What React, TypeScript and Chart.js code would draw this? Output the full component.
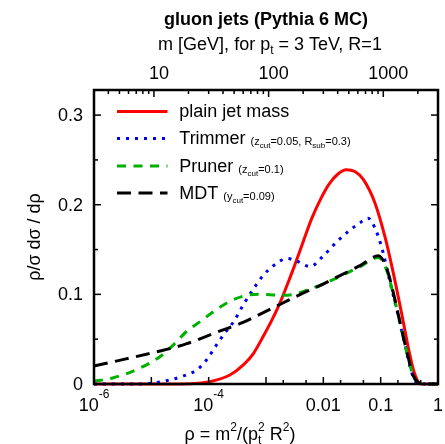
import React, { useEffect, useRef } from "react";
import { Chart, registerables } from "chart.js";

Chart.register(...registerables);

const FONT = '"Liberation Sans", Arial, Helvetica, sans-serif';

// ---- data (x given as log10(rho), y = rho/sigma dsigma/drho) ----
const plainLogRho = [-6, -4.6, -4.25, -3.98, -3.63, -3.4, -3.22, -3.05, -2.9, -2.76, -2.64, -2.52, -2.35, -2.2, -2.05, -1.9, -1.75, -1.6, -1.45, -1.3, -1.1, -0.92, -0.78, -0.62, -0.5, -0.43, -0.36, -0.3, 0];
const plainValues = [0, 0, 0.0005, 0.0026, 0.01, 0.021, 0.034, 0.053, 0.071, 0.09, 0.109, 0.129, 0.159, 0.185, 0.206, 0.223, 0.234, 0.239, 0.237, 0.228, 0.202, 0.163, 0.124, 0.074, 0.035, 0.016, 0.004, 0, 0];

const trimLogRho = [-6, -5.2, -4.72, -4.44, -4.2, -4.03, -3.88, -3.74, -3.56, -3.39, -3.22, -3.05, -2.87, -2.63, -2.46, -2.23, -2.0, -1.76, -1.53, -1.36, -1.22, -1.1, -0.98, -0.86, -0.72, -0.57, -0.46, -0.37, -0.3, 0];
const trimValues = [0, 0, 0.004, 0.009, 0.016, 0.0275, 0.042, 0.055, 0.07, 0.089, 0.106, 0.121, 0.132, 0.14, 0.137, 0.131, 0.143, 0.159, 0.172, 0.18, 0.185, 0.174, 0.152, 0.12, 0.083, 0.042, 0.013, 0.001, 0, 0];

const prunLogRho = [-6, -5.66, -5.19, -4.84, -4.61, -4.38, -4.14, -3.91, -3.62, -3.33, -3.1, -2.75, -2.52, -2.23, -1.95, -1.71, -1.36, -1.04, -0.89, -0.78, -0.66, -0.54, -0.43, -0.33, -0.25, 0];
const prunValues = [0.003, 0.007, 0.018, 0.031, 0.044, 0.059, 0.07, 0.081, 0.0925, 0.099, 0.1, 0.099, 0.1, 0.106, 0.113, 0.12, 0.131, 0.141, 0.126, 0.1, 0.068, 0.034, 0.009, 0.001, 0, 0];

const mdtLogRho = [-6, -5.48, -4.9, -4.38, -3.85, -3.39, -3.1, -2.75, -2.4, -2.05, -1.71, -1.36, -1.04, -0.89, -0.78, -0.66, -0.54, -0.43, -0.33, -0.25, 0];
const mdtValues = [0.02, 0.0275, 0.036, 0.045, 0.058, 0.069, 0.078, 0.089, 0.1, 0.11, 0.121, 0.132, 0.143, 0.128, 0.102, 0.068, 0.035, 0.009, 0.001, 0, 0];

// ---- axes / labels ----
const X_MIN = 1e-6;
const X_MAX = 1;
const Y_MIN = 0;
const Y_MAX = 0.328;
const yTickValues = [0, 0.1, 0.2, 0.3];
const yTickLabels = ["0", "0.1", "0.2", "0.3"];
const xTickValues = [1e-6, 1e-4, 0.01, 0.1, 1];
const xTickBase = ["10", "10", "0.01", "0.1", "1"];
const xTickExp = ["-6", "-4", "", "", ""];
const massTickValues = [10, 100, 1000];
const massTickLabels = ["10", "100", "1000"];
const PT_TIMES_R = 3000; // GeV

const seriesNames = ["plain jet mass", "Trimmer", "Pruner", "MDT"];
const seriesColors = ["#ff0000", "#0000ee", "#00b000", "#000000"];
const seriesDash: number[][] = [[], [3, 6], [9, 7.5], [14, 7.5]];

type Seg = { t?: string; size: number; dy?: number; bold?: boolean; stack?: [string, string]; sdy?: [number, number] };

function fnt(size: number, bold?: boolean) {
  return `${bold ? "bold " : ""}${size}px ${FONT}`;
}
function segW(ctx: CanvasRenderingContext2D, s: Seg) {
  ctx.font = fnt(s.size, s.bold);
  if (s.stack) return Math.max(ctx.measureText(s.stack[0]).width, ctx.measureText(s.stack[1]).width);
  return ctx.measureText(s.t || "").width;
}
function drawRich(ctx: CanvasRenderingContext2D, segs: Seg[], x: number, y: number, align: "left" | "center" | "right") {
  const total = segs.reduce((a, s) => a + segW(ctx, s), 0);
  let cx = align === "center" ? x - total / 2 : align === "right" ? x - total : x;
  ctx.textAlign = "left";
  ctx.textBaseline = "alphabetic";
  for (const s of segs) {
    const w = segW(ctx, s);
    ctx.font = fnt(s.size, s.bold);
    if (s.stack) {
      ctx.fillText(s.stack[0], cx, y + (s.sdy ? s.sdy[0] : 4));
      ctx.fillText(s.stack[1], cx, y + (s.sdy ? s.sdy[1] : -8));
    } else {
      ctx.fillText(s.t || "", cx, y + (s.dy || 0));
    }
    cx += w;
  }
  return total;
}

const decorPlugin = {
  id: "decor",
  afterDraw(chart: any) {
    const ctx: CanvasRenderingContext2D = chart.ctx;
    const { left, right, top, bottom } = chart.chartArea;
    const xs = chart.scales.x;
    const ys = chart.scales.y;
    ctx.save();
    ctx.strokeStyle = "#000";
    ctx.fillStyle = "#000";
    ctx.lineWidth = 1.5;
    ctx.setLineDash([]);
    const seg = (x1: number, y1: number, x2: number, y2: number) => {
      ctx.beginPath();
      ctx.moveTo(x1, y1);
      ctx.lineTo(x2, y2);
      ctx.stroke();
    };
    // bottom ticks: decades, plus 2 and 5 from 1e-3
    for (let e = -6; e <= 0; e++) {
      const x = xs.getPixelForValue(Math.pow(10, e));
      seg(x, bottom, x, bottom - 7);
      if (e >= -3 && e < 0) {
        for (const d of [2, 5]) {
          const xm = xs.getPixelForValue(d * Math.pow(10, e));
          seg(xm, bottom, xm, bottom - 4);
        }
      }
    }
    // top ticks in mass
    for (let p = 0; p <= 3; p++) {
      for (let d = 1; d <= 9; d++) {
        const m = d * Math.pow(10, p);
        const rho = Math.pow(m / PT_TIMES_R, 2);
        if (rho <= X_MIN * 1.0001 || rho >= X_MAX) continue;
        const x = xs.getPixelForValue(rho);
        seg(x, top, x, top + (d === 1 ? 7 : 4));
      }
    }
    // y ticks, left and right
    for (let k = 0; k <= 6; k++) {
      const v = k * 0.05;
      const y = ys.getPixelForValue(v);
      const len = k % 2 === 0 ? 7 : 4;
      seg(left, y, left + len, y);
      seg(right, y, right - len, y);
    }
    // border
    ctx.lineWidth = 2.5;
    ctx.strokeRect(left, top, right - left, bottom - top);

    // y tick labels
    ctx.font = fnt(18);
    ctx.textAlign = "right";
    ctx.textBaseline = "middle";
    yTickValues.forEach((v, i) => {
      ctx.fillText(yTickLabels[i], 83, ys.getPixelForValue(v) + 1);
    });
    // x tick labels
    xTickValues.forEach((v, i) => {
      const x = xs.getPixelForValue(v);
      const segs: Seg[] = [{ t: xTickBase[i], size: 18 }];
      if (xTickExp[i]) segs.push({ t: xTickExp[i], size: 12, dy: -13 });
      drawRich(ctx, segs, x, 411, "center");
    });
    // top mass labels
    massTickValues.forEach((m, i) => {
      const x = xs.getPixelForValue(Math.pow(m / PT_TIMES_R, 2));
      drawRich(ctx, [{ t: massTickLabels[i], size: 18 }], x + 5, 79, "center");
    });
    // titles
    const cxPlot = (left + right) / 2;
    drawRich(ctx, [{ t: "gluon jets (Pythia 6 MC)", size: 18, bold: true }], cxPlot, 25, "center");
    drawRich(
      ctx,
      [
        { t: "m [GeV], for p", size: 18 },
        { t: "t", size: 12, dy: 4 },
        { t: " = 3 TeV, R=1", size: 18 },
      ],
      cxPlot + 4,
      49.5,
      "center"
    );
    drawRich(
      ctx,
      [
        { t: "\u03c1 = m", size: 18 },
        { t: "2", size: 12, dy: -9 },
        { t: "/(p", size: 18 },
        { stack: ["t", "2"], size: 12, sdy: [4, -9] },
        { t: " R", size: 18 },
        { t: "2", size: 12, dy: -9 },
        { t: ")", size: 18 },
      ],
      240,
      440,
      "center"
    );
    // y axis title
    ctx.save();
    ctx.translate(35, (top + bottom) / 2);
    ctx.rotate(-Math.PI / 2);
    ctx.font = fnt(18);
    ctx.textAlign = "center";
    ctx.textBaseline = "middle";
    ctx.fillText("\u03c1/\u03c3 d\u03c3 / d\u03c1", 0, 0);
    ctx.restore();

    // legend
    const baselines = [117, 144, 171.5, 198.5];
    const small: Seg[][] = [
      [],
      [
        { t: "(z", size: 11 },
        { t: "cut", size: 8, dy: 3 },
        { t: "=0.05, R", size: 11 },
        { t: "sub", size: 8, dy: 3 },
        { t: "=0.3)", size: 11 },
      ],
      [
        { t: "(z", size: 11 },
        { t: "cut", size: 8, dy: 3 },
        { t: "=0.1)", size: 11 },
      ],
      [
        { t: "(y", size: 11 },
        { t: "cut", size: 8, dy: 3 },
        { t: "=0.09)", size: 11 },
      ],
    ];
    seriesNames.forEach((name, i) => {
      const by = baselines[i];
      const ly = by - 5.5;
      ctx.save();
      ctx.strokeStyle = seriesColors[i];
      ctx.lineWidth = 3;
      ctx.setLineDash(seriesDash[i]);
      ctx.beginPath();
      ctx.moveTo(117, ly);
      ctx.lineTo(167.5, ly);
      ctx.stroke();
      ctx.restore();
      ctx.fillStyle = "#000";
      const w = drawRich(ctx, [{ t: name, size: 18 }], 179.3, by, "left");
      if (small[i].length) drawRich(ctx, small[i], 179.3 + w + 5, by + 1, "left");
    });
    ctx.restore();
  },
};

function toPoints(logRho: number[], vals: number[]) {
  return logRho.map((l, i) => ({ x: Math.pow(10, l), y: vals[i] }));
}

export default function App() {
  const ref = useRef<HTMLCanvasElement>(null);
  useEffect(() => {
    const canvas = ref.current!;
    const seriesX = [plainLogRho, trimLogRho, prunLogRho, mdtLogRho];
    const seriesY = [plainValues, trimValues, prunValues, mdtValues];
    const orders = [3, 2, 1, 0];
    const chart = new Chart(canvas, {
      type: "line",
      data: {
        datasets: seriesNames.map((name, i) => ({
          label: name,
          data: toPoints(seriesX[i], seriesY[i]),
          borderColor: seriesColors[i],
          backgroundColor: seriesColors[i],
          borderWidth: 3,
          borderDash: seriesDash[i],
          borderCapStyle: "butt" as const,
          pointRadius: 0,
          fill: false,
          cubicInterpolationMode: "monotone" as const,
          order: orders[i],
          clip: 3,
        })),
      },
      options: {
        animation: false,
        responsive: false,
        devicePixelRatio: 1,
        layout: { padding: { left: 94, right: 7, top: 90, bottom: 60 } },
        scales: {
          x: { type: "logarithmic", min: X_MIN, max: X_MAX, display: false },
          y: { type: "linear", min: Y_MIN, max: Y_MAX, display: false },
        },
        plugins: { legend: { display: false }, tooltip: { enabled: false } },
        events: [],
      },
      plugins: [decorPlugin],
    } as any);
    return () => chart.destroy();
  }, []);
  return (
    <div style={{ position: "absolute", left: 0, top: 0, width: 445, height: 444, background: "#fff" }}>
      <canvas ref={ref} width={445} height={444} style={{ display: "block", width: 445, height: 444 }} />
    </div>
  );
}
